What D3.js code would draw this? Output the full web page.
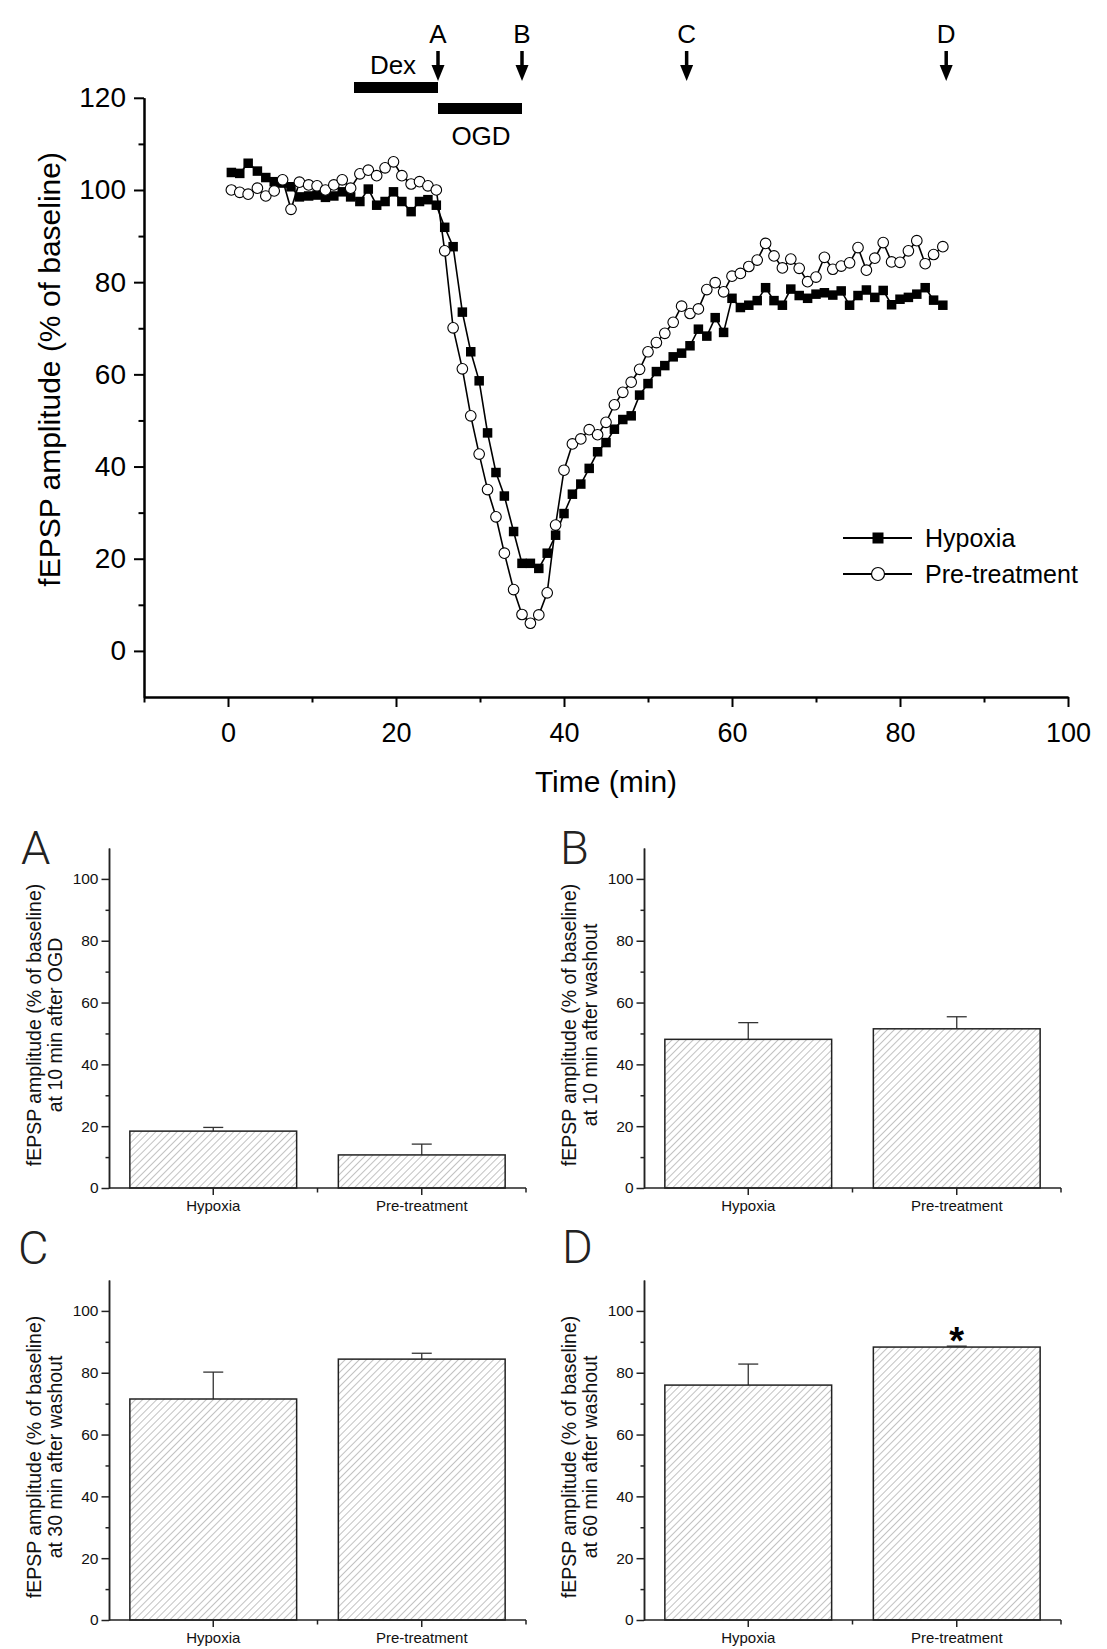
<!DOCTYPE html>
<html><head><meta charset="utf-8">
<script src="https://cdn.jsdelivr.net/npm/d3@7"></script>
<style>
html,body{margin:0;padding:0;background:#fff;}
svg{display:block;font-family:"Liberation Sans",Arial,sans-serif;}
</style></head><body>
<svg id="chart" width="1107" height="1649"></svg>
<script>
// ---------- time course data ----------
const minutes = [0.4,1.4,2.4,3.5,4.5,5.5,6.5,7.5,8.5,9.6,10.6,11.6,12.6,13.6,14.6,15.7,16.7,17.7,18.7,19.7,
  20.7,21.8,22.8,23.8,24.8,25.8,26.8,27.9,28.9,29.9,30.9,31.9,32.9,34.0,35.0,36.0,37.0,38.0,39.0,40.0,
  41.0,42.0,43.0,44.0,45.0,46.0,47.0,48.0,49.0,50.0,51.0,52.0,53.0,54.0,55.0,56.0,57.0,58.0,59.0,60.0,
  61.0,62.0,63.0,64.0,65.0,66.0,67.0,68.0,69.0,70.0,71.0,72.0,73.0,74.0,75.0,76.0,77.0,78.0,79.0,80.0,
  81.0,82.0,83.0,84.0,85.1];
const hypoxia = [103.8,103.6,105.8,104.1,102.7,101.8,101.5,100.7,98.5,98.7,98.9,98.4,98.7,99.6,98.5,97.5,100.2,96.7,97.5,99.6,
  97.5,95.3,97.5,97.9,96.7,91.9,87.7,73.5,64.9,58.6,47.3,38.7,33.6,25.9,19.0,19.0,17.9,21.2,25.1,29.8,
  34.0,36.2,39.6,43.2,45.2,48.1,50.2,51.0,55.5,58.0,60.6,61.9,63.8,64.6,66.2,69.8,68.3,72.3,69.1,76.5,
  74.5,75.0,76.0,78.8,76.0,75.0,78.5,77.1,76.5,77.4,77.7,77.2,78.1,75.0,77.1,78.3,76.7,78.2,75.1,76.3,
  76.7,77.4,78.8,76.1,75.0];
const pretreatment = [100.0,99.5,99.1,100.4,98.7,99.8,102.2,95.8,101.7,101.1,100.9,100.0,101.1,102.2,100.4,103.5,104.3,103.1,104.8,106.1,
  103.1,101.3,101.8,100.9,100.0,86.8,70.1,61.2,51.0,42.7,35.0,29.1,21.2,13.3,7.9,6.0,7.8,12.6,27.3,39.2,
  44.9,46.0,48.0,46.9,49.6,53.4,56.1,58.3,61.1,64.9,66.9,68.9,71.3,74.8,73.2,74.2,78.4,79.9,77.9,81.3,
  81.9,83.4,84.8,88.4,85.7,83.1,85.0,83.0,80.1,81.1,85.4,82.8,83.5,84.2,87.5,82.6,85.2,88.6,84.4,84.3,
  86.8,89.0,84.0,86.0,87.7];
const seriesNames = ["Hypoxia", "Pre-treatment"];
const xTickValues = [0, 20, 40, 60, 80, 100];
const xMinorTicks = [-10, 10, 30, 50, 70, 90];
const yTickValues = [0, 20, 40, 60, 80, 100, 120];
const yMinorTicks = [10, 30, 50, 70, 90, 110];
const eventLabels = ["A", "B", "C", "D"];
const eventTimes = [25, 35, 54.6, 85.5];
const dexPeriod = [15, 25];
const ogdPeriod = [25, 35];

// ---------- bar panel data ----------
const barCategories = ["Hypoxia", "Pre-treatment"];
const panelLetters = ["A", "B", "C", "D"];
const panelSubtitles = ["at 10 min after OGD", "at 10 min after washout", "at 30 min after washout", "at 60 min after washout"];
const barHypoxia = [18.4, 48.1, 71.5, 76.0];
const barPretreatment = [10.7, 51.5, 84.4, 88.3];
const errHypoxia = [1.2, 5.4, 8.7, 6.8];
const errPretreatment = [3.5, 3.9, 1.9, 0.3];
const sigPretreatment = ["", "", "", "*"];
const barTickValues = [0, 20, 40, 60, 80, 100];
const barMinorTicks = [10, 30, 50, 70, 90];

const svg = d3.select("#chart");

// ================= TOP CHART =================
const x = d3.scaleLinear().domain([-10, 100]).range([144, 1068]);
const y = d3.scaleLinear().domain([-10, 120]).range([697, 97.8]);
const FONT = '"Liberation Sans", Arial, sans-serif';

function styleAxis(g, fs) {
  g.attr("font-family", FONT).attr("font-size", fs);
  g.selectAll("path.domain").attr("stroke", "#000").attr("stroke-width", 2);
  g.selectAll(".tick line").attr("stroke", "#000").attr("stroke-width", 2);
  g.selectAll(".tick text").attr("fill", "#000");
}

// x axis
const gxMinor = svg.append("g").attr("transform", "translate(0,697)")
  .call(d3.axisBottom(x).tickValues(xMinorTicks).tickSize(5.5).tickSizeOuter(0).tickFormat(""));
styleAxis(gxMinor, 27);
const gx = svg.append("g").attr("transform", "translate(0,697)")
  .call(d3.axisBottom(x).tickValues(xTickValues).tickSize(10).tickSizeOuter(0).tickPadding(16).tickFormat(d3.format("d")));
styleAxis(gx, 27);

// y axis
const gyMinor = svg.append("g").attr("transform", "translate(144,0)")
  .call(d3.axisLeft(y).tickValues(yMinorTicks).tickSize(5.5).tickSizeOuter(0).tickFormat(""));
styleAxis(gyMinor, 28);
const gy = svg.append("g").attr("transform", "translate(144,0)")
  .call(d3.axisLeft(y).tickValues(yTickValues).tickSize(10).tickSizeOuter(0).tickPadding(8).tickFormat(d3.format("d")));
styleAxis(gy, 28);

// axis titles
svg.append("text").attr("x", x(45)).attr("y", 792).attr("text-anchor", "middle")
  .attr("font-size", 30).attr("font-family", FONT).text("Time (min)");
svg.append("text").attr("transform", `translate(60,${(y(0) + y(120)) / 2 - 5}) rotate(-90)`)
  .attr("text-anchor", "middle").attr("font-size", 30).attr("font-family", FONT)
  .text("fEPSP amplitude (% of baseline)");

// treatment bars
svg.append("rect").attr("x", x(dexPeriod[0])).attr("y", 82).attr("width", x(dexPeriod[1]) - x(dexPeriod[0])).attr("height", 11).attr("fill", "#000");
svg.append("text").attr("x", x((dexPeriod[0] + dexPeriod[1]) / 2) - 3).attr("y", 74).attr("text-anchor", "middle")
  .attr("font-size", 26).attr("font-family", FONT).text("Dex");
svg.append("rect").attr("x", x(ogdPeriod[0])).attr("y", 103).attr("width", x(ogdPeriod[1]) - x(ogdPeriod[0])).attr("height", 11).attr("fill", "#000");
svg.append("text").attr("x", x((ogdPeriod[0] + ogdPeriod[1]) / 2) + 1).attr("y", 145).attr("text-anchor", "middle")
  .attr("font-size", 26).attr("font-family", FONT).text("OGD");

// event arrows
const ev = svg.append("g").selectAll("g").data(eventTimes).join("g")
  .attr("transform", d => `translate(${x(d)},0)`);
ev.append("text").attr("y", 43).attr("text-anchor", "middle").attr("font-size", 26).attr("font-family", FONT)
  .text((d, i) => eventLabels[i]);
ev.append("line").attr("x1", 0).attr("x2", 0).attr("y1", 51).attr("y2", 70).attr("stroke", "#000").attr("stroke-width", 3.5);
ev.append("path").attr("d", "M-6.5,65 L6.5,65 L0,81 Z").attr("fill", "#000");

// series
const hypData = minutes.map((t, i) => ({ t, v: hypoxia[i] }));
const preData = minutes.map((t, i) => ({ t, v: pretreatment[i] }));
const line = d3.line().x(d => x(d.t)).y(d => y(d.v));

svg.append("path").datum(hypData).attr("d", line).attr("fill", "none").attr("stroke", "#000").attr("stroke-width", 1.6);
const SQ = 9.5;
svg.append("g").selectAll("rect").data(hypData).join("rect")
  .attr("x", d => x(d.t) - SQ / 2).attr("y", d => y(d.v) - SQ / 2).attr("width", SQ).attr("height", SQ).attr("fill", "#000");

svg.append("path").datum(preData).attr("d", line).attr("fill", "none").attr("stroke", "#000").attr("stroke-width", 1.6);
svg.append("g").selectAll("circle").data(preData).join("circle")
  .attr("cx", d => x(d.t)).attr("cy", d => y(d.v)).attr("r", 5.3)
  .attr("fill", "#fff").attr("stroke", "#000").attr("stroke-width", 1.1);

// legend
const leg = svg.append("g").selectAll("g").data(seriesNames).join("g")
  .attr("transform", (d, i) => `translate(0,${538 + i * 36})`);
leg.append("line").attr("x1", 843).attr("x2", 912).attr("y1", 0).attr("y2", 0).attr("stroke", "#000").attr("stroke-width", 2);
leg.filter((d, i) => i === 0).append("rect").attr("x", 878 - 5.5).attr("y", -5.5).attr("width", 11).attr("height", 11).attr("fill", "#000");
leg.filter((d, i) => i === 1).append("circle").attr("cx", 878).attr("cy", 0).attr("r", 6.5).attr("fill", "#fff").attr("stroke", "#000").attr("stroke-width", 1.2);
leg.append("text").attr("x", 925).attr("y", 9).attr("font-size", 25).attr("font-family", FONT).text(d => d);

// ================= BAR PANELS =================
const defs = svg.append("defs");
const pat = defs.append("pattern").attr("id", "hatch").attr("patternUnits", "userSpaceOnUse")
  .attr("width", 5).attr("height", 5).attr("patternTransform", "rotate(45)");
pat.append("rect").attr("width", 5).attr("height", 5).attr("fill", "#fff");
pat.append("line").attr("x1", 0).attr("y1", 0).attr("x2", 0).attr("y2", 5).attr("stroke", "#777").attr("stroke-width", 0.9);

const panelAxisX = [109, 644, 109, 644];
const panelZeroY = [1188, 1188, 1620, 1620];
const panelLetterPos = [[21, 864], [560, 864], [18, 1264], [562, 1263]];
const PW = 417, PH = 340;
const AX = "#222";

panelLetters.forEach((letter, p) => {
  const ax0 = panelAxisX[p], zy = panelZeroY[p];
  const g = svg.append("g");
  const py = d3.scaleLinear().domain([0, 110]).range([zy, zy - PH]);
  const px = d3.scaleBand().domain(barCategories).range([ax0, ax0 + PW]).paddingInner(0.2).paddingOuter(0.1);

  // bars
  const vals = [barHypoxia[p], barPretreatment[p]];
  const errs = [errHypoxia[p], errPretreatment[p]];
  barCategories.forEach((c, i) => {
    const cx = px(c) + px.bandwidth() / 2;
    g.append("line").attr("x1", cx).attr("x2", cx).attr("y1", py(vals[i])).attr("y2", py(vals[i] + errs[i]))
      .attr("stroke", "#333").attr("stroke-width", 1.3);
    g.append("line").attr("x1", cx - 10).attr("x2", cx + 10).attr("y1", py(vals[i] + errs[i])).attr("y2", py(vals[i] + errs[i]))
      .attr("stroke", "#333").attr("stroke-width", 1.3);
    g.append("rect").attr("x", px(c)).attr("y", py(vals[i])).attr("width", px.bandwidth()).attr("height", zy - py(vals[i]))
      .attr("fill", "url(#hatch)").attr("stroke", AX).attr("stroke-width", 1.5);
  });
  if (sigPretreatment[p]) {
    const cx = px(barCategories[1]) + px.bandwidth() / 2;
    g.append("text").attr("x", cx).attr("y", py(barPretreatment[p] + errPretreatment[p]) + 8)
      .attr("text-anchor", "middle").attr("font-size", 38).attr("font-weight", "bold").attr("font-family", FONT)
      .text(sigPretreatment[p]);
  }

  // y axis
  const yMinor = g.append("g").attr("transform", `translate(${ax0},0)`)
    .call(d3.axisLeft(py).tickValues(barMinorTicks).tickSize(3.5).tickSizeOuter(0).tickFormat(""));
  const yMajor = g.append("g").attr("transform", `translate(${ax0},0)`)
    .call(d3.axisLeft(py).tickValues(barTickValues).tickSize(7.5).tickSizeOuter(0).tickPadding(3).tickFormat(d3.format("d")));
  [yMinor, yMajor].forEach(a => {
    a.attr("font-family", FONT).attr("font-size", 15.5);
    a.selectAll("path.domain").attr("stroke", AX).attr("stroke-width", 1.5);
    a.selectAll(".tick line").attr("stroke", AX).attr("stroke-width", 1.5);
    a.selectAll(".tick text").attr("fill", "#111");
  });
  // x axis
  g.append("line").attr("x1", ax0).attr("x2", ax0 + PW).attr("y1", zy).attr("y2", zy).attr("stroke", AX).attr("stroke-width", 1.5);
  barCategories.forEach(c => {
    const cx = px(c) + px.bandwidth() / 2;
    g.append("line").attr("x1", cx).attr("x2", cx).attr("y1", zy).attr("y2", zy + 7).attr("stroke", AX).attr("stroke-width", 1.5);
    g.append("text").attr("x", cx).attr("y", zy + 23).attr("text-anchor", "middle").attr("font-size", 15)
      .attr("font-family", FONT).attr("fill", "#111").text(c);
  });
  [ax0 + PW / 2, ax0 + PW].forEach(tx => {
    g.append("line").attr("x1", tx).attr("x2", tx).attr("y1", zy).attr("y2", zy + 4.5).attr("stroke", AX).attr("stroke-width", 1.5);
  });

  // y title
  const cy = zy - PH / 2 + 7;
  g.append("text").attr("transform", `translate(${ax0 - 68},${cy}) rotate(-90)`).attr("text-anchor", "middle")
    .attr("font-size", 19.5).attr("font-family", FONT).attr("fill", "#111").text("fEPSP amplitude (% of baseline)");
  g.append("text").attr("transform", `translate(${ax0 - 47},${cy}) rotate(-90)`).attr("text-anchor", "middle")
    .attr("font-size", 19.5).attr("font-family", FONT).attr("fill", "#111").text(panelSubtitles[p]);

  // panel letter
  g.append("text").attr("x", panelLetterPos[p][0]).attr("y", panelLetterPos[p][1])
    .attr("font-size", 47).attr("font-family", "Roboto, 'Liberation Sans', sans-serif").attr("font-weight", 300)
    .attr("fill", "#222").text(letter);
});
</script>
</body></html>
